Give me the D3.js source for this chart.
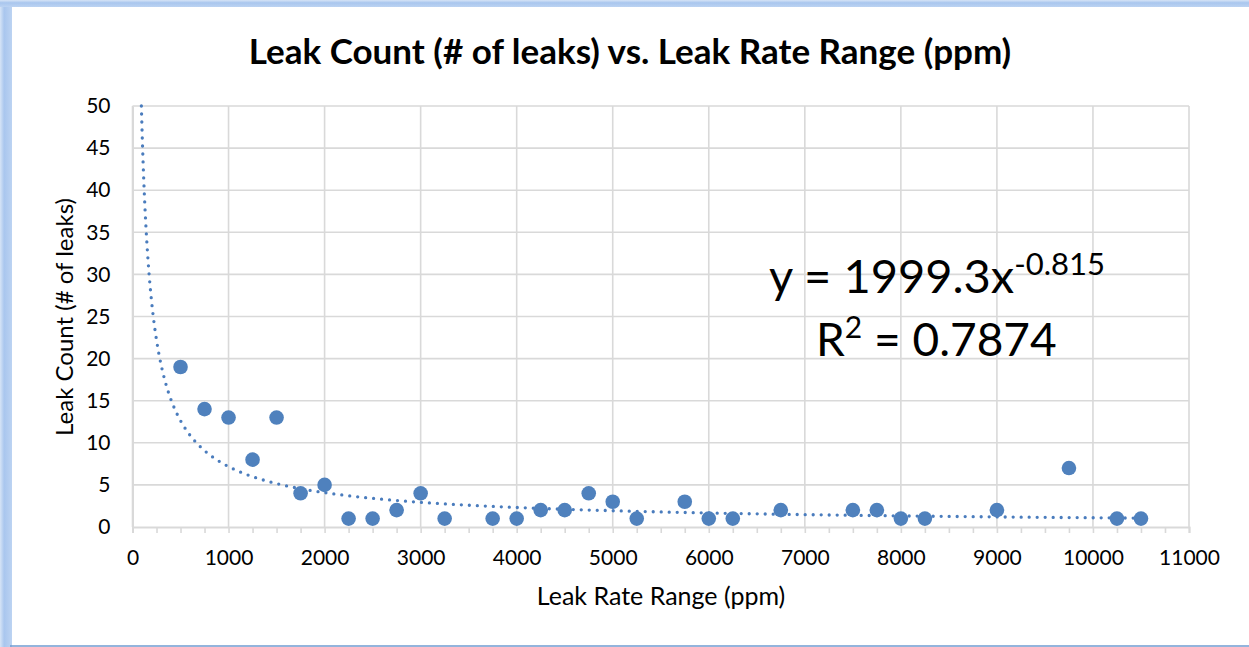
<!DOCTYPE html>
<html>
<head>
<meta charset="utf-8">
<script src="https://cdn.jsdelivr.net/npm/d3@7"></script>
<style>
  html, body { margin: 0; padding: 0; background: #ffffff; }
  svg { display: block; }
  text { font-family: Lato, "Noto Sans", sans-serif; fill: #000; }
</style>
</head>
<body>
<svg id="chart" width="1249" height="647"></svg>
<script>
// Leak rate range (ppm) bins and number of leaks observed in each
const leakRate  = [500, 750, 1000, 1250, 1500, 1750, 2000, 2250, 2500, 2750, 3000, 3250, 3750, 4000,
                   4250, 4500, 4750, 5000, 5250, 5750, 6000, 6250, 6750, 7500, 7750, 8000, 8250, 9000,
                   9750, 10250, 10500];
const leakCount = [19, 14, 13, 8, 13, 4, 5, 1, 1, 2, 4, 1, 1, 1,
                   2, 2, 4, 3, 1, 3, 1, 1, 2, 2, 2, 1, 1, 2,
                   7, 1, 1];

// Power trendline y = a * x^b
const fitA = 1999.3;
const fitB = -0.815;
const fitR2 = "0.7874";

const xTicks = d3.range(0, 11001, 1000);
const xMinorTicks = d3.range(0, 11001, 250);
const yTicks = d3.range(0, 51, 5);

const W = 1249, H = 647;
const svg = d3.select("#chart");

// ---- frame ----
const defs = svg.append("defs");
const gl = defs.append("linearGradient").attr("id", "edgeL").attr("x1", 0).attr("x2", 1).attr("y1", 0).attr("y2", 0);
gl.append("stop").attr("offset", "0%").attr("stop-color", "#d6e4f6");
gl.append("stop").attr("offset", "35%").attr("stop-color", "#a9c6ee");
gl.append("stop").attr("offset", "100%").attr("stop-color", "#bcd3f2");
const gt = defs.append("linearGradient").attr("id", "edgeT").attr("x1", 0).attr("x2", 0).attr("y1", 0).attr("y2", 1);
gt.append("stop").attr("offset", "0%").attr("stop-color", "#d6e4f6");
gt.append("stop").attr("offset", "40%").attr("stop-color", "#a9c6ee");
gt.append("stop").attr("offset", "100%").attr("stop-color", "#bcd3f2");

svg.append("rect").attr("x", 0).attr("y", 0).attr("width", W).attr("height", H).attr("fill", "#ffffff");
svg.append("rect").attr("x", 0).attr("y", 0).attr("width", 12).attr("height", H).attr("fill", "url(#edgeL)");
svg.append("rect").attr("x", 0).attr("y", 0).attr("width", W).attr("height", 7).attr("fill", "url(#edgeT)");
svg.append("rect").attr("x", 12).attr("y", 7).attr("width", W).attr("height", 639)
  .attr("rx", 3).attr("fill", "#ffffff");
svg.append("line").attr("x1", 10).attr("x2", W).attr("y1", 646).attr("y2", 646)
  .attr("stroke", "#6f9bd0").attr("stroke-width", 1.5);

// ---- plot area ----
const plot = { left: 132.5, right: 1189, top: 106, bottom: 527 };
const x = d3.scaleLinear().domain([0, 11000]).range([plot.left, plot.right]);
const y = d3.scaleLinear().domain([0, 50]).range([plot.bottom, plot.top]);

const grid = svg.append("g").attr("stroke", "#d9d9d9").attr("stroke-width", 1.6);
grid.selectAll(".hg").data(yTicks.filter(d => d > 0)).join("line")
  .attr("x1", plot.left).attr("x2", plot.right)
  .attr("y1", d => y(d)).attr("y2", d => y(d));
grid.selectAll(".vg").data(xTicks).join("line")
  .attr("x1", d => x(d)).attr("x2", d => x(d))
  .attr("y1", plot.top).attr("y2", plot.bottom);

// x axis with minor ticks every 250
const xAxis = svg.append("g").attr("transform", `translate(0,${plot.bottom})`)
  .call(d3.axisBottom(x).tickValues(xMinorTicks).tickSize(6).tickFormat(""));
xAxis.select(".domain").attr("stroke", "#d9d9d9").attr("stroke-width", 2);
xAxis.selectAll(".tick line").attr("stroke", "#d9d9d9").attr("stroke-width", 1.6);

const xLabels = svg.append("g").attr("transform", `translate(0,${plot.bottom})`)
  .call(d3.axisBottom(x).tickValues(xTicks).tickSize(0).tickPadding(23).tickFormat(d3.format("d")));
xLabels.select(".domain").remove();
xLabels.selectAll("text").attr("font-size", 21).attr("fill", "#000").style("font-family", "Lato, 'Noto Sans', sans-serif");

const yLabels = svg.append("g").attr("transform", `translate(${plot.left},0)`)
  .call(d3.axisLeft(y).tickValues(yTicks).tickSize(0).tickPadding(22).tickFormat(d3.format("d")));
yLabels.select(".domain").attr("stroke", "#d9d9d9").attr("stroke-width", 2);
yLabels.selectAll("text").attr("font-size", 21).attr("fill", "#000").style("font-family", "Lato, 'Noto Sans', sans-serif");

// ---- trendline (dotted) ----
const xStart = Math.pow(50 / fitA, 1 / fitB);
const trendX = d3.range(xStart, 10500, 10).concat([10500]);
const trendLine = d3.line().x(d => x(d)).y(d => y(fitA * Math.pow(d, fitB)));
svg.append("path").datum(trendX)
  .attr("d", trendLine)
  .attr("fill", "none")
  .attr("stroke", "#4a7cbd")
  .attr("stroke-width", 3.3)
  .attr("stroke-linecap", "round")
  .attr("stroke-dasharray", "0 8");

// ---- data points ----
svg.append("g").selectAll("circle").data(leakRate).join("circle")
  .attr("cx", d => x(d))
  .attr("cy", (d, i) => y(leakCount[i]))
  .attr("r", 7.3)
  .attr("fill", "#4f81bd");

// ---- titles ----
svg.append("text").attr("x", 630).attr("y", 64).attr("text-anchor", "middle")
  .attr("font-size", 35).attr("font-weight", 700)
  .text("Leak Count (# of leaks) vs. Leak Rate Range (ppm)");

svg.append("text").attr("x", 661).attr("y", 605).attr("text-anchor", "middle")
  .attr("font-size", 25)
  .text("Leak Rate Range (ppm)");

svg.append("text").attr("transform", "translate(73,317) rotate(-90)").attr("text-anchor", "middle")
  .attr("font-size", 24)
  .text("Leak Count (# of leaks)");

// ---- trendline equation ----
const eq = svg.append("text").attr("x", 769).attr("y", 293).attr("font-size", 47);
eq.append("tspan").text("y = " + fitA + "x");
eq.append("tspan").attr("font-size", 31).attr("dy", -18).text(String(fitB));

const r2 = svg.append("text").attr("x", 816).attr("y", 356).attr("font-size", 46);
r2.append("tspan").text("R");
r2.append("tspan").attr("font-size", 30).attr("dy", -18).text("2");
r2.append("tspan").attr("dy", 18).text(" = " + fitR2);
</script>
</body>
</html>
